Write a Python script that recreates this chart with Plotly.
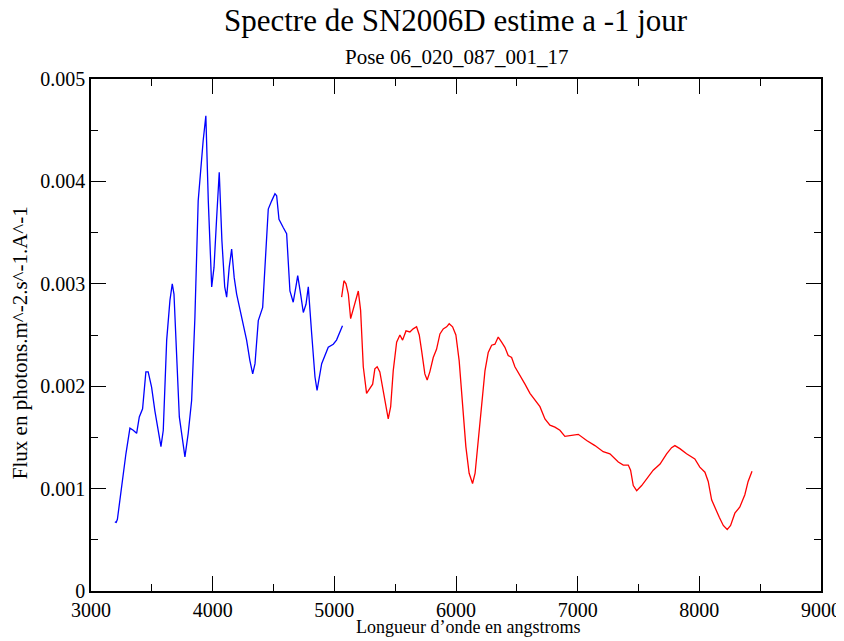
import plotly.graph_objects as go

# Blue segment (wavelength in angstroms, flux)
blue_wl = [3196, 3207, 3217, 3238, 3265, 3287, 3320, 3347, 3375, 3397, 3424, 3451, 3470,
           3498, 3525, 3552, 3575, 3594, 3622, 3649, 3668, 3682, 3698, 3726, 3772, 3799,
           3827, 3854, 3881, 3901, 3922, 3944, 3964, 3992, 4011, 4033, 4054, 4076, 4099,
           4115, 4136, 4156, 4177, 4197, 4224, 4251, 4279, 4306, 4329, 4348, 4375, 4411,
           4438, 4457, 4485, 4512, 4526, 4545, 4580, 4608, 4635, 4662, 4684, 4699, 4723,
           4745, 4767, 4786, 4814, 4841, 4858, 4896, 4950, 4991, 5018, 5046, 5067]
blue_flux = [0.000675, 0.00067, 0.00070, 0.000887, 0.00118, 0.00134, 0.00159, 0.00157,
             0.00154, 0.00170, 0.00178, 0.00214, 0.00214, 0.00199, 0.00176, 0.00159,
             0.00141, 0.00157, 0.00245, 0.00284, 0.00300, 0.00290, 0.00251, 0.00170,
             0.00131, 0.00154, 0.00186, 0.00267, 0.00381, 0.00414, 0.00440, 0.00464,
             0.00381, 0.00297, 0.00316, 0.00365, 0.00409, 0.00342, 0.00297, 0.00287,
             0.00316, 0.00334, 0.00306, 0.00290, 0.00274, 0.00258, 0.00245, 0.00225,
             0.00212, 0.00222, 0.00264, 0.00277, 0.00332, 0.00373, 0.00381, 0.00388,
             0.00386, 0.00363, 0.00355, 0.00349, 0.00293, 0.00282, 0.00297, 0.00308,
             0.00290, 0.00272, 0.00280, 0.00297, 0.00251, 0.00209, 0.00196, 0.00222,
             0.00238, 0.00241, 0.00245, 0.00254, 0.00259]

# Red segment
red_wl = [5060, 5079, 5096, 5115, 5134, 5156, 5178, 5197, 5216, 5238, 5265, 5292, 5315,
          5333, 5352, 5374, 5402, 5424, 5443, 5463, 5484, 5512, 5539, 5561, 5589, 5621,
          5648, 5676, 5698, 5717, 5744, 5763, 5785, 5813, 5840, 5868, 5895, 5923, 5944,
          5972, 5999, 6026, 6054, 6081, 6108, 6136, 6157, 6183, 6211, 6238, 6265, 6293,
          6320, 6347, 6375, 6402, 6429, 6457, 6484, 6525, 6567, 6608, 6649, 6690, 6731,
          6772, 6813, 6854, 6895, 6937, 7005, 7074, 7142, 7210, 7265, 7334, 7375, 7416,
          7435, 7457, 7485, 7526, 7567, 7621, 7677, 7731, 7772, 7799, 7840, 7895, 7963,
          8004, 8046, 8073, 8101, 8128, 8164, 8197, 8229, 8257, 8292, 8333, 8374, 8401,
          8433]
red_flux = [0.00287, 0.00303, 0.00300, 0.00290, 0.00266, 0.00276, 0.00287, 0.00293,
            0.00274, 0.00219, 0.00193, 0.00198, 0.00202, 0.00217, 0.00219, 0.00214,
            0.00196, 0.00180, 0.00168, 0.00180, 0.00215, 0.00243, 0.00250, 0.00245,
            0.00254, 0.00253, 0.00256, 0.00258, 0.00250, 0.00235, 0.00212, 0.00206,
            0.00214, 0.00228, 0.00236, 0.00251, 0.00256, 0.00258, 0.00261, 0.00258,
            0.00250, 0.00225, 0.00183, 0.00141, 0.00115, 0.00105, 0.00115, 0.00147,
            0.00183, 0.00215, 0.00233, 0.00240, 0.00241, 0.00248, 0.00243, 0.00238,
            0.00230, 0.00228, 0.00219, 0.00211, 0.00202, 0.00193, 0.00186, 0.00180,
            0.00168, 0.00162, 0.00160, 0.00157, 0.00151, 0.00152, 0.00153, 0.00147,
            0.00142, 0.00136, 0.00134, 0.00126, 0.00123, 0.00123, 0.00118, 0.00103,
            0.00098, 0.00103, 0.00110, 0.00118, 0.00124, 0.00134, 0.00140, 0.00142,
            0.00139, 0.00134, 0.00129, 0.00121, 0.00116, 0.00107, 0.00089, 0.00081,
            0.00072, 0.00064, 0.00060, 0.00064, 0.00076, 0.00082, 0.00094, 0.00107,
            0.00117]

x_ticks = [3000, 4000, 5000, 6000, 7000, 8000, 9000]
y_ticks = [0, 0.001, 0.002, 0.003, 0.004, 0.005]
y_tick_labels = ["0", "0.001", "0.002", "0.003", "0.004", "0.005"]

title_text = "Spectre de SN2006D estime a -1 jour"
subtitle_text = "Pose 06_020_087_001_17"
x_title = "Longueur d’onde en angstroms"
y_title = "Flux en photons.m^-2.s^-1.A^-1"

FONT = "Liberation Serif"

fig = go.Figure()
fig.add_trace(go.Scatter(x=blue_wl, y=blue_flux, mode="lines",
                         line=dict(color="#0000ff", width=1.3), showlegend=False))
fig.add_trace(go.Scatter(x=red_wl, y=red_flux, mode="lines",
                         line=dict(color="#ff0000", width=1.3), showlegend=False))

axis_common = dict(showline=True, linecolor="black", linewidth=1.5, mirror="allticks",
                   ticks="inside", ticklen=15, tickwidth=1.3, tickcolor="black",
                   showgrid=False, zeroline=False, automargin=False,
                   ticklabeloverflow="allow",
                   tickfont=dict(family=FONT, size=20, color="black"))

# The page body has an 8px margin, so the figure is sized/margined to compensate.
fig.update_layout(
    width=836, height=633,
    margin=dict(l=83, r=23, t=71, b=50),
    paper_bgcolor="white", plot_bgcolor="white",
    font=dict(family=FONT, color="black"),
    xaxis=dict(range=[3000, 9000], tickvals=x_ticks,
               minor=dict(ticks="inside", ticklen=7, tickwidth=1.3, tickcolor="black", dtick=500),
               **axis_common),
    yaxis=dict(range=[0, 0.005], tickvals=y_ticks, ticktext=y_tick_labels,
               minor=dict(ticks="inside", ticklen=7, tickwidth=1.3, tickcolor="black", dtick=0.0005),
               **axis_common),
    annotations=[
        dict(text=title_text, xref="paper", yref="paper", x=0.5, y=1, yshift=59,
             xanchor="center", yanchor="middle", showarrow=False,
             font=dict(family=FONT, size=31, color="black")),
        dict(text=subtitle_text, xref="paper", yref="paper", x=0.5, y=1, yshift=22,
             xanchor="center", yanchor="middle", showarrow=False,
             font=dict(family=FONT, size=21, color="black")),
        dict(text=x_title, xref="paper", yref="paper", x=0.517, y=0, yshift=-36,
             xanchor="center", yanchor="middle", showarrow=False,
             font=dict(family=FONT, size=18, color="black")),
        dict(text=y_title, xref="paper", yref="paper", x=-0.0973, y=0.486, textangle=-90,
             xanchor="center", yanchor="middle", showarrow=False,
             font=dict(family=FONT, size=21, color="black")),
    ],
)

fig.write_html("out.html")
